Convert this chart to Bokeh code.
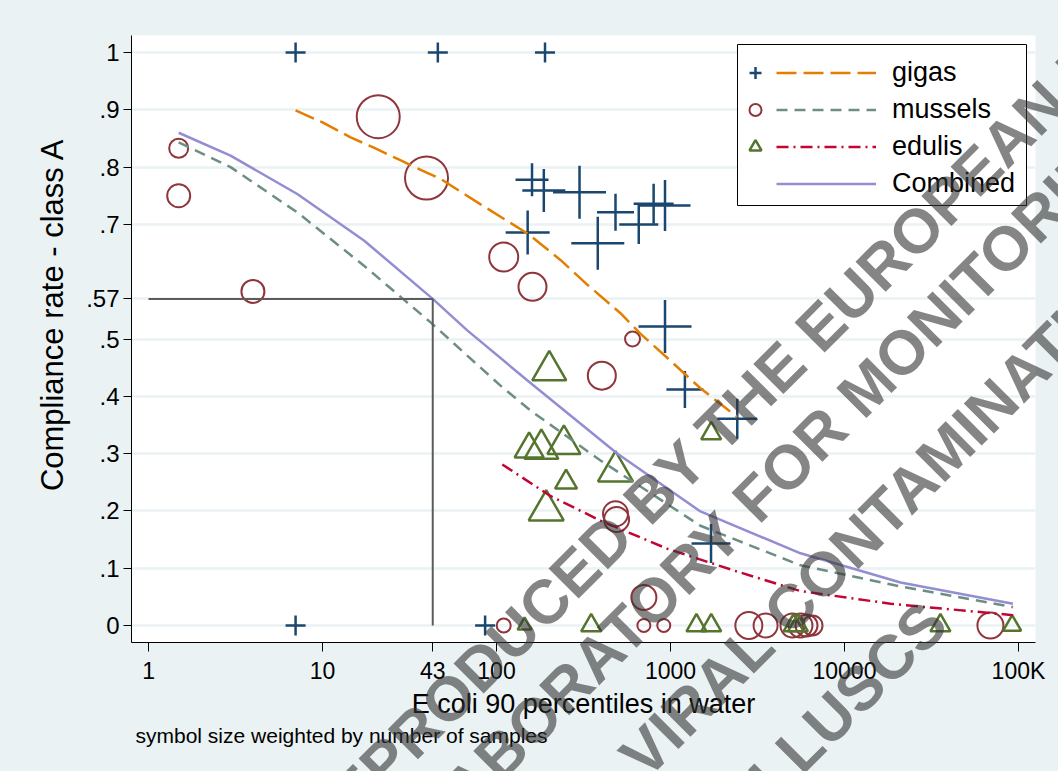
from bokeh.plotting import figure
from bokeh.layouts import column
from bokeh.models import (Range1d, FixedTicker, Legend, LegendItem, BoxAnnotation,
                          Label, Title, GlobalInlineStyleSheet)
from bokeh.embed import file_html
from bokeh.resources import INLINE

# ---------------- data ----------------
gigas_x = [7, 46, 190, 7, 86, 160, 187, 300, 483, 657, 800, 930, 151, 382, 930, 1210, 2420, 1710]
gigas_y = [1, 1, 1, 0, 0, .778, .759, .756, .721, .700, .736, .733, .686, .667, .522, .412, .361, .143]
gigas_w = [20, 20, 20, 20, 20, 33, 43, 53, 37, 39, 40, 51, 44, 53, 53, 37, 40, 39]

mussels_x = [1.49, 1.49, 3.98, 20.9, 39.6, 110, 161, 605, 403, 483, 490, 703,
             110, 703, 915, 2820, 3520, 5025, 5585, 6050, 6550, 69000]
mussels_y = [.833, .750, .583, .888, .781, .643, .591, .500, .436, .195, .185, .049,
             0, 0, 0, 0, 0, 0, 0, 0, 0, 0]
mussels_w = [19, 23, 23, 43, 43, 29, 28, 15, 28, 25, 25, 25,
             14, 13, 13, 27, 24, 24, 24, 22, 20, 26]

edulis_x = [201, 154, 181, 244, 483, 1714, 251, 193, 145, 350, 1410, 1714, 5100, 5400, 35600, 92000]
edulis_y = [.445, .308, .308, .316, .269, .335, .250, .201, 0, 0, 0, 0, 0, 0, 0, 0]
edulis_w = [34, 29, 34, 33, 35, 20, 22, 35, 14, 20, 20, 20, 20, 20, 20, 18]

gigas_fit_x = [7, 10, 14.5, 20, 28, 40, 48, 81, 151, 233, 332, 516, 673, 1000, 1486, 2417]
gigas_fit_y = [.899, .878, .852, .833, .812, .790, .779, .735, .684, .638, .595, .545, .509, .462, .414, .364]

mussels_fit_x = [1.49, 2.96, 7.16, 17.3, 41.8, 105, 157, 396, 1486, 5590, 21000, 93000]
mussels_fit_y = [.843, .800, .721, .628, .529, .419, .375, .288, .174, .105, .068, .032]

edulis_fit_x = [108, 204, 396, 957, 2312, 5590, 18400, 93000]
edulis_fit_y = [.281, .226, .183, .134, .096, .060, .038, .018]

comb_fit_x = [1.49, 2.96, 7.16, 17.3, 43, 67.9, 150, 494, 1486, 5590, 21000, 93000]
comb_fit_y = [.860, .820, .753, .672, .570, .515, .428, .300, .199, .126, .075, .038]

ref_x = [1, 43, 43]
ref_y = [0.57, 0.57, 0]

x_ticks = [1, 10, 43, 100, 1000, 10000, 100000]
x_tick_labels = ["1", "10", "43", "100", "1000", "10000", "100K"]
y_ticks = [0, 0.1, 0.2, 0.3, 0.4, 0.5, 0.57, 0.7, 0.8, 0.9, 1]
y_tick_labels = ["0", ".1", ".2", ".3", ".4", ".5", ".57", ".7", ".8", ".9", "1"]

series_names = ["gigas", "mussels", "edulis", "Combined"]
y_title = "Compliance rate - class A"
x_title = "E coli 90 percentiles in water"
note_text = "symbol size weighted by number of samples"

watermark_lines = ["REPRODUCED", "BY THE EUROPEAN UNION", "LABORATORY", "FOR MONITORING",
                   "VIRAL", "CONTAMINATION", "MOLLUSCS"]

# ---------------- styling ----------------
BG = "#eaf2f3"
NAVY = "#1a476f"
MAROON = "#90353b"
GREEN = "#55752f"
ORANGE = "#e37e00"
TEAL = "#6e8e84"
CRAN = "#c10534"
LAV = "#938dd2"
SANS = "Liberation Sans"
W, H = 1058, 771

p = figure(width=W, height=H, x_axis_type="log",
           x_range=Range1d(0.798, 125300), y_range=Range1d(-0.0297, 1.0297),
           output_backend="svg", toolbar_location=None,
           min_border_left=131, min_border_right=23, min_border_top=35, min_border_bottom=129)
p.stylesheets = [GlobalInlineStyleSheet(css="body { background: #eaf2f3; }")]
p.background_fill_color = "white"
p.border_fill_color = BG
p.outline_line_color = None

p.xaxis.ticker = FixedTicker(ticks=x_ticks)
p.xaxis.major_label_overrides = {t: l for t, l in zip(x_ticks, x_tick_labels)}
p.yaxis.ticker = FixedTicker(ticks=y_ticks)
p.yaxis.major_label_overrides = {t: l for t, l in zip(y_ticks, y_tick_labels)}
p.xgrid.visible = False
p.ygrid.ticker = FixedTicker(ticks=y_ticks)
p.ygrid.grid_line_color = BG
p.ygrid.grid_line_width = 2.5

for ax in (p.xaxis[0], p.yaxis[0]):
    ax.axis_line_color = "black"
    ax.axis_line_width = 1
    ax.major_tick_line_color = "black"
    ax.major_tick_line_width = 1
    ax.major_tick_in = 0
    ax.minor_tick_line_color = None
    ax.major_label_text_color = "black"
    ax.axis_label_text_color = "black"
    ax.axis_label_text_font_style = "normal"

p.xaxis.major_tick_out = 9
p.xaxis.major_label_standoff = 6
p.xaxis.major_label_text_font = SANS
p.xaxis.major_label_text_font_size = "23px"
p.xaxis.axis_label = x_title
p.xaxis.axis_label_text_font = SANS
p.xaxis.axis_label_text_font_size = "27px"
p.xaxis.axis_label_standoff = 2

p.yaxis.major_tick_out = 8
p.yaxis.major_label_standoff = 4
p.yaxis.major_label_text_font = SANS
p.yaxis.major_label_text_font_size = "24px"

# markers
s_g = p.scatter(gigas_x, gigas_y, size=gigas_w, marker="cross", line_color=NAVY, line_width=2.5)
s_m = p.scatter(mussels_x, mussels_y, size=mussels_w, marker="circle", fill_color=None,
                line_color=MAROON, line_width=2)
s_e = p.scatter(edulis_x, edulis_y, size=edulis_w, marker="triangle", fill_color=None,
                line_color=GREEN, line_width=2.5)

# fitted lines
l_g = p.line(gigas_fit_x, gigas_fit_y, line_color=ORANGE, line_width=2.5, line_dash="20 7")
l_m = p.line(mussels_fit_x, mussels_fit_y, line_color=TEAL, line_width=2.5, line_dash="11 7")
l_e = p.line(edulis_fit_x, edulis_fit_y, line_color=CRAN, line_width=2.5, line_dash="12 5 2 5")
l_c = p.line(comb_fit_x, comb_fit_y, line_color=LAV, line_width=2.5)

p.line(ref_x, ref_y, line_color="#5c5c5c", line_width=2)

# legend box + two legends (markers, lines)
box = BoxAnnotation(left=606, right=895, top=598, bottom=437,
                    left_units="screen", right_units="screen", top_units="screen", bottom_units="screen",
                    fill_color="white", fill_alpha=1, line_color="black", line_width=1, line_alpha=1)
p.add_layout(box)

line_legend = Legend(items=[LegendItem(label=n, renderers=[r]) for n, r in
                            zip(series_names, [l_g, l_m, l_e, l_c])],
                     location=(645, 443), orientation="vertical",
                     glyph_width=100, glyph_height=31, label_height=31, label_standoff=16,
                     spacing=6, padding=0, margin=0, border_line_color=None,
                     background_fill_alpha=0, label_text_font=SANS, label_text_font_size="27px",
                     label_text_color="black")
p.add_layout(line_legend)

marker_legend = Legend(items=[LegendItem(label=" ", renderers=[r]) for r in [s_g, s_m, s_e]],
                       location=(609, 480), orientation="vertical",
                       glyph_width=30, glyph_height=31, label_height=31, label_standoff=0, label_width=0,
                       spacing=6, padding=0, margin=0, border_line_color=None,
                       background_fill_alpha=0, label_text_font=SANS, label_text_font_size="27px")
p.add_layout(marker_legend)

# note below the axis
p.add_layout(Title(text=note_text, align="left",
                   text_font=SANS, text_font_size="21px", text_font_style="normal",
                   text_color="black", offset=4, standoff=0), "below")

# ---------------- transparent overlay figure covering the page ----------------
w = figure(width=W, height=H, x_range=Range1d(0, W), y_range=Range1d(0, H),
           output_backend="svg", toolbar_location=None,
           x_axis_location=None, y_axis_location=None, min_border=0,
           background_fill_alpha=0, border_fill_alpha=0, outline_line_color=None)
w.xgrid.visible = False
w.ygrid.visible = False
w.styles = {"position": "absolute", "top": "0px", "left": "0px", "pointer-events": "none"}
if "frame_align" in type(w).properties():
    w.frame_align = False
    p.frame_align = False

# y axis title (placed as in the reference, not centred on the frame)
w.add_layout(Label(x=52, y=457, text=y_title, angle=90, angle_units="deg",
                   text_align="center", text_baseline="middle",
                   text_font=SANS, text_font_size="31px", text_color="black"))

# watermark; anchor points in page pixels measured from the bottom-left corner
wm_anchor = [(621, 246, "right"), (634, 259, "left"),
             (730, 248, "right"), (743, 261, "left"),
             (762, 137, "right"), (774, 149, "left"),
             (935, 159, "right")]
wm = dict(angle=45, angle_units="deg",
          text_font=SANS, text_font_style="bold", text_font_size="62px",
          text_color="#333333", text_alpha=0.6, text_baseline="middle")
for t, (x, y, a) in zip(watermark_lines, wm_anchor):
    w.add_layout(Label(x=x, y=y, text=t, text_align=a, **wm))

layout = column(p, w, width=W, height=H)
layout.styles = {"position": "relative"}

open("out.html", "w").write(file_html(layout, INLINE))
